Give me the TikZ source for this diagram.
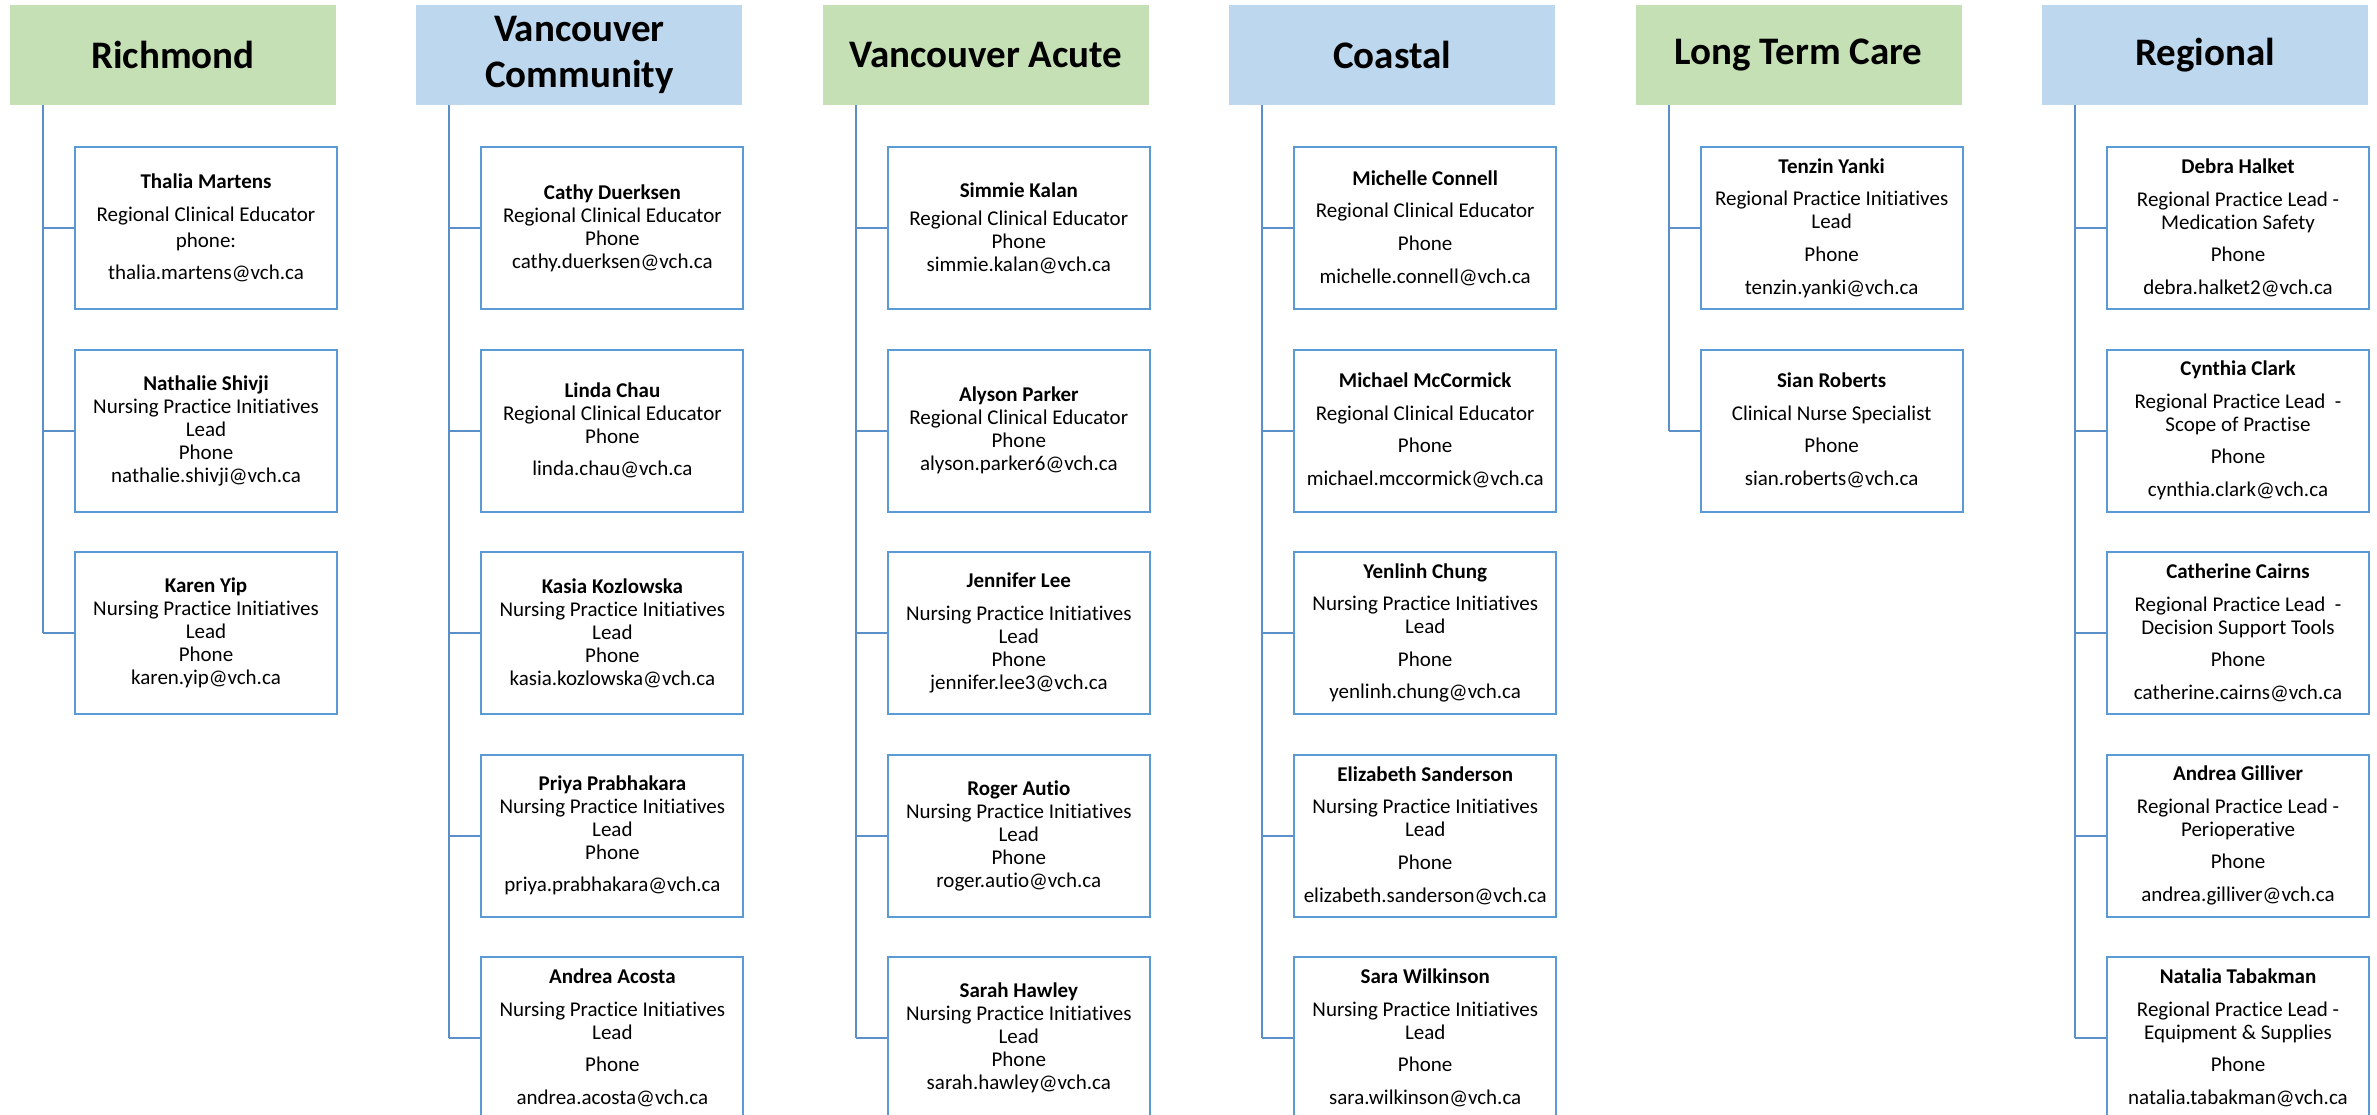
\documentclass[tikz,border=0pt]{standalone}
\usepackage{fontspec}
\setmainfont{Carlito}[Ligatures=NoCommon]
\definecolor{hgreen}{HTML}{C5E0B4}
\definecolor{hblue}{HTML}{BDD7EE}
\definecolor{bblue}{HTML}{5B9BD5}
\definecolor{lblue}{HTML}{5B8FC9}
\tikzset{
 hdr/.style={minimum width=326pt, minimum height=100pt, inner sep=0pt, align=center, font=\fontsize{39}{46}\selectfont\bfseries},
 pbox/.style={draw=bblue, line width=2pt, fill=white, minimum width=262pt, minimum height=162pt, inner sep=0pt, align=center, font=\fontsize{21}{23}\selectfont},
 conn/.style={draw=lblue, line width=2pt},
}
\newcommand{\bigbr}{\\[9.6pt]}
\newcommand{\mkbox}[4]{\node[pbox] (#1) at ({206+406.4*#2},{228+202.5*#3}) {#4};}
\newcommand{\mkhdr}[4]{\node[hdr, fill=#3] (#1) at ({173+406.4*#2},55) {#4};
  \coordinate (v#2) at ({43+406.4*#2},105);}
\begin{document}
\begin{tikzpicture}[x=1pt,y=-1pt]
\useasboundingbox (0,0) rectangle (2377,1115);
\clip (0,0) rectangle (2377,1115);
\fill[white] (0,0) rectangle (2377,1115);

\mkhdr{h0}{0}{hgreen}{Richmond}
\mkhdr{h1}{1}{hblue}{Vancouver\\Community}
\mkhdr{h2}{2}{hgreen}{Vancouver Acute}
\mkhdr{h3}{3}{hblue}{Coastal}
\mkhdr{h4}{4}{hgreen}{Long Term Care}
\mkhdr{h5}{5}{hblue}{Regional}

% Richmond
\mkbox{a0}{0}{0}{\textbf{Thalia Martens}\bigbr Regional Clinical Educator\\[3pt] phone:\bigbr thalia.martens@vch.ca}
\mkbox{a1}{0}{1}{\textbf{Nathalie Shivji}\\ Nursing Practice Initiatives\\ Lead\\ Phone\\ nathalie.shivji@vch.ca}
\mkbox{a2}{0}{2}{\textbf{Karen Yip}\\ Nursing Practice Initiatives\\ Lead\\ Phone\\ karen.yip@vch.ca}
% Vancouver Community
\mkbox{b0}{1}{0}{\textbf{Cathy Duerksen}\\ Regional Clinical Educator\\ Phone\\ cathy.duerksen@vch.ca}
\mkbox{b1}{1}{1}{\textbf{Linda Chau}\\ Regional Clinical Educator\\ Phone\bigbr linda.chau@vch.ca}
\mkbox{b2}{1}{2}{\textbf{Kasia Kozlowska}\\ Nursing Practice Initiatives\\ Lead\\ Phone\\ kasia.kozlowska@vch.ca}
\mkbox{b3}{1}{3}{\textbf{Priya Prabhakara}\\ Nursing Practice Initiatives\\ Lead\\ Phone\bigbr priya.prabhakara@vch.ca}
\mkbox{b4}{1}{4}{\textbf{Andrea Acosta}\bigbr Nursing Practice Initiatives\\ Lead\bigbr Phone\bigbr andrea.acosta@vch.ca}
% Vancouver Acute
\mkbox{c0}{2}{0}{\textbf{Simmie Kalan}\\[5pt] Regional Clinical Educator\\ Phone\\ simmie.kalan@vch.ca}
\mkbox{c1}{2}{1}{\textbf{Alyson Parker}\\ Regional Clinical Educator\\ Phone\\ alyson.parker6@vch.ca}
\mkbox{c2}{2}{2}{\textbf{Jennifer Lee}\bigbr Nursing Practice Initiatives\\ Lead\\ Phone\\ jennifer.lee3@vch.ca}
\mkbox{c3}{2}{3}{\textbf{Roger Autio}\\ Nursing Practice Initiatives\\ Lead\\ Phone\\ roger.autio@vch.ca}
\mkbox{c4}{2}{4}{\textbf{Sarah Hawley}\\ Nursing Practice Initiatives\\ Lead\\ Phone\\ sarah.hawley@vch.ca}
% Coastal
\mkbox{d0}{3}{0}{\textbf{Michelle Connell}\bigbr Regional Clinical Educator\bigbr Phone\bigbr michelle.connell@vch.ca}
\mkbox{d1}{3}{1}{\textbf{Michael McCormick}\bigbr Regional Clinical Educator\bigbr Phone\bigbr michael.mccormick@vch.ca}
\mkbox{d2}{3}{2}{\textbf{Yenlinh Chung}\bigbr Nursing Practice Initiatives\\ Lead\bigbr Phone\bigbr yenlinh.chung@vch.ca}
\mkbox{d3}{3}{3}{\textbf{Elizabeth Sanderson}\bigbr Nursing Practice Initiatives\\ Lead\bigbr Phone\bigbr elizabeth.sanderson@vch.ca}
\mkbox{d4}{3}{4}{\textbf{Sara Wilkinson}\bigbr Nursing Practice Initiatives\\ Lead\bigbr Phone\bigbr sara.wilkinson@vch.ca}
% Long Term Care
\mkbox{e0}{4}{0}{\textbf{Tenzin Yanki}\bigbr Regional Practice Initiatives\\ Lead\bigbr Phone\bigbr tenzin.yanki@vch.ca}
\mkbox{e1}{4}{1}{\textbf{Sian Roberts}\bigbr Clinical Nurse Specialist\bigbr Phone\bigbr sian.roberts@vch.ca}
% Regional
\mkbox{f0}{5}{0}{\textbf{Debra Halket}\bigbr Regional Practice Lead -\\ Medication Safety\bigbr Phone\bigbr debra.halket2@vch.ca}
\mkbox{f1}{5}{1}{\textbf{Cynthia Clark}\bigbr Regional Practice Lead\ \ -\\ Scope of Practise\bigbr Phone\bigbr cynthia.clark@vch.ca}
\mkbox{f2}{5}{2}{\textbf{Catherine Cairns}\bigbr Regional Practice Lead\ \ -\\ Decision Support Tools\bigbr Phone\bigbr catherine.cairns@vch.ca}
\mkbox{f3}{5}{3}{\textbf{Andrea Gilliver}\bigbr Regional Practice Lead -\\ Perioperative\bigbr Phone\bigbr andrea.gilliver@vch.ca}
\mkbox{f4}{5}{4}{\textbf{Natalia Tabakman}\bigbr Regional Practice Lead -\\ Equipment \& Supplies\bigbr Phone\bigbr natalia.tabakman@vch.ca}

% vertical trunks
\draw[conn] (v0) -- (a2.west -| v0);
\draw[conn] (v1) -- (b4.west -| v1);
\draw[conn] (v2) -- (c4.west -| v2);
\draw[conn] (v3) -- (d4.west -| v3);
\draw[conn] (v4) -- (e1.west -| v4);
\draw[conn] (v5) -- (f4.west -| v5);
% branches
\foreach \b in {a0,a1,a2} {\draw[conn] (\b.west -| v0) -- (\b.west);}
\foreach \b in {b0,b1,b2,b3,b4} {\draw[conn] (\b.west -| v1) -- (\b.west);}
\foreach \b in {c0,c1,c2,c3,c4} {\draw[conn] (\b.west -| v2) -- (\b.west);}
\foreach \b in {d0,d1,d2,d3,d4} {\draw[conn] (\b.west -| v3) -- (\b.west);}
\foreach \b in {e0,e1} {\draw[conn] (\b.west -| v4) -- (\b.west);}
\foreach \b in {f0,f1,f2,f3,f4} {\draw[conn] (\b.west -| v5) -- (\b.west);}
\end{tikzpicture}
\end{document}
